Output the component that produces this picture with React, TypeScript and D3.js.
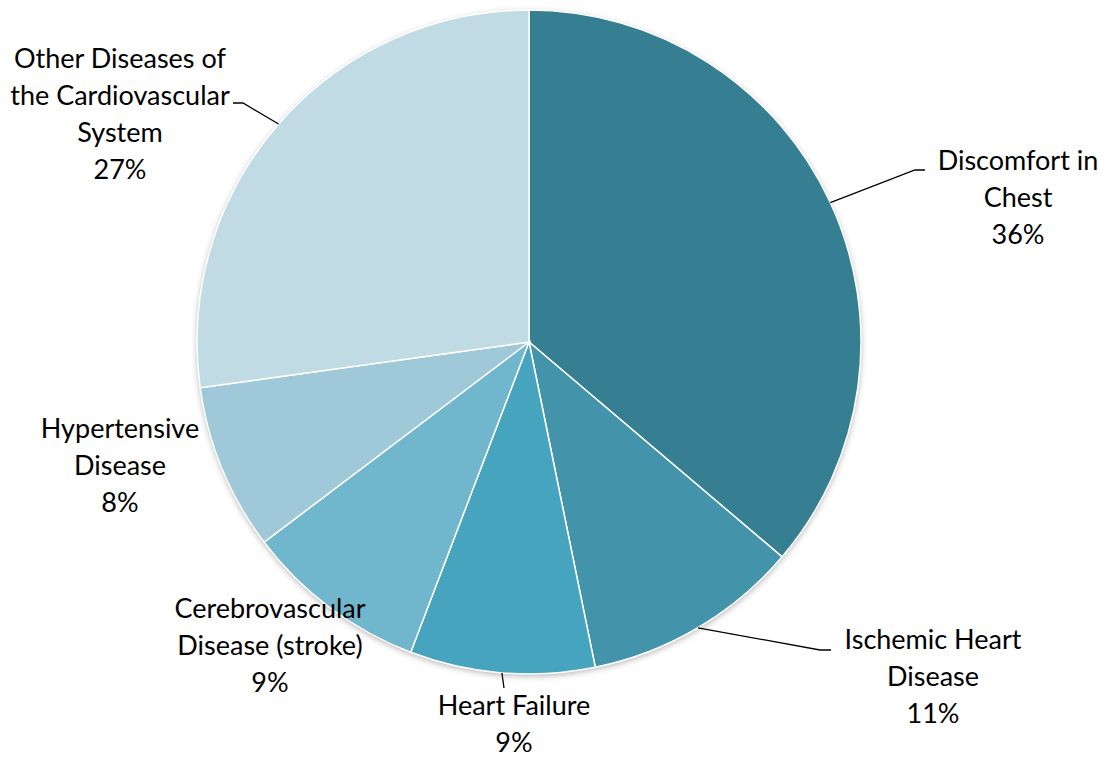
import React from "react";
import * as d3 from "d3";

const categories = [
  "Discomfort in Chest",
  "Ischemic Heart Disease",
  "Heart Failure",
  "Cerebrovascular Disease (stroke)",
  "Hypertensive Disease",
  "Other Diseases of the Cardiovascular System",
];
const values = [36.2, 10.6, 9.0, 8.9, 8.1, 27.2];
const labelLines = [
  ["Discomfort in", "Chest"],
  ["Ischemic Heart", "Disease"],
  ["Heart Failure"],
  ["Cerebrovascular", "Disease (stroke)"],
  ["Hypertensive", "Disease"],
  ["Other Diseases of", "the Cardiovascular", "System"],
];
const colors = ["#367F92", "#4393AB", "#47A4BE", "#70B6CC", "#9FC8D9", "#C1DBE4"];

// label layout: center x, first line center y, leader elbow points
const labelLayout = [
  { x: 1018, y: 161, leader: [[915, 170], [925, 170]] },
  { x: 933, y: 640, leader: [[820, 650], [831, 650]] },
  { x: 514, y: 706, leader: [[504, 688]] },
  { x: 270, y: 609, leader: null },
  { x: 120, y: 429, leader: null },
  { x: 120, y: 59, leader: [[243, 103], [233, 103]] },
];

const W = 1110;
const H = 758;
const cx = 529;
const cy = 342;
const R = 332;
const lineH = 37;
const total = d3.sum(values);

export default function App() {
  const pie = d3.pie<number>().sort(null).value((d) => d);
  const arcs = pie(values);
  const arcGen = d3.arc<d3.PieArcDatum<number>>().innerRadius(0).outerRadius(R);
  return (
    <svg width={W} height={H} style={{ position: "absolute", left: 0, top: 0 }}>
      <defs>
        <filter id="sh" x="-10%" y="-10%" width="120%" height="120%">
          <feDropShadow dx="0" dy="2" stdDeviation="3" floodColor="#000" floodOpacity="0.3" />
        </filter>
      </defs>
      <g transform={`translate(${cx},${cy})`}>
        <circle r={R} fill="#fff" filter="url(#sh)" />
        {arcs.map((a, i) => (
          <path key={categories[i]} d={arcGen(a) || ""} fill={colors[i]} stroke="#fff" strokeWidth={1.5} />
        ))}
      </g>
      {arcs.map((a, i) => {
        const lay = labelLayout[i];
        if (!lay.leader) return null;
        const mid = (a.startAngle + a.endAngle) / 2;
        const sx = cx + R * Math.sin(mid);
        const sy = cy - R * Math.cos(mid);
        const pts = [[sx, sy], ...lay.leader];
        return (
          <polyline
            key={"l" + i}
            points={pts.map((p) => p.join(",")).join(" ")}
            fill="none"
            stroke="#000"
            strokeWidth={1.3}
          />
        );
      })}
      {labelLines.map((lines, i) => {
        const lay = labelLayout[i];
        const all = [...lines, `${Math.round((values[i] / total) * 100)}%`];
        return (
          <text
            key={"t" + i}
            textAnchor="middle"
            fontFamily="Lato, 'Open Sans', sans-serif"
            fontSize={27}
            fill="#000"
          >
            {all.map((s, j) => (
              <tspan key={j} x={lay.x} y={lay.y + j * lineH} dy="0.35em">
                {s}
              </tspan>
            ))}
          </text>
        );
      })}
    </svg>
  );
}
